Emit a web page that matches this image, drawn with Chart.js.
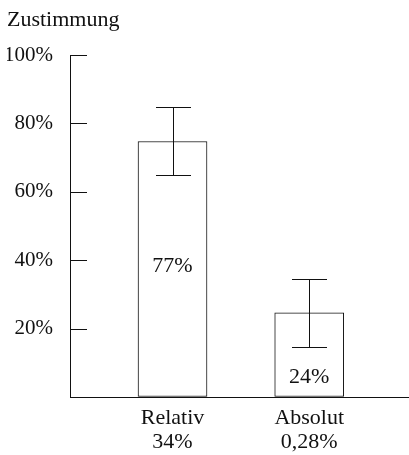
<!DOCTYPE html>
<html>
<head>
<meta charset="utf-8">
<script src="https://cdn.jsdelivr.net/npm/chart.js@4/dist/chart.umd.min.js"></script>
<style>
  html, body { margin: 0; padding: 0; background: #fff; }
  #wrap { width: 409px; height: 455px; }
</style>
</head>
<body>
<div id="wrap"><canvas id="c"></canvas></div>
<script>
const categories = ['Relativ', 'Absolut'];
const subLabels = ['34%', '0,28%'];
const values = [74.7, 24.6];
const errLow = [64.8, 14.5];
const errHigh = [84.7, 34.5];
const barTexts = ['77%', '24%'];
const yTickValues = [20, 40, 60, 80, 100];

const FONT = "'Liberation Serif', 'Times New Roman', serif";
const INK = '#111';
const FS = 22;

const overlay = {
  id: 'overlay',
  afterDatasetsDraw(chart) {
    const ctx = chart.ctx;
    const xs = chart.scales.x, ys = chart.scales.y;
    ctx.save();
    ctx.strokeStyle = INK;
    ctx.lineWidth = 1;
    yTickValues.forEach(v => {
      const py = Math.round(ys.getPixelForValue(v)) + 0.5;
      ctx.beginPath();
      ctx.moveTo(xs.left, py);
      ctx.lineTo(xs.left + 17, py);
      ctx.stroke();
    });
    const meta = chart.getDatasetMeta(0);
    meta.data.forEach((bar, i) => {
      const cx = Math.round(bar.x) + 0.5;
      const yh = Math.round(ys.getPixelForValue(errHigh[i])) + 0.5;
      const yl = Math.round(ys.getPixelForValue(errLow[i])) + 0.5;
      ctx.beginPath();
      ctx.moveTo(cx, yh); ctx.lineTo(cx, yl);
      ctx.moveTo(cx - 17.5, yh); ctx.lineTo(cx + 17.5, yh);
      ctx.moveTo(cx - 17.5, yl); ctx.lineTo(cx + 17.5, yl);
      ctx.stroke();
    });
    ctx.fillStyle = INK;
    ctx.font = FS + 'px ' + FONT;
    ctx.textAlign = 'center';
    ctx.textBaseline = 'middle';
    meta.data.forEach((bar, i) => {
      let ty;
      if (i === 0) ty = (bar.y + bar.base) / 2 - 3;
      else ty = bar.base - 19;
      ctx.fillText(barTexts[i], bar.x, ty);
    });
    ctx.restore();
  }
};

new Chart(document.getElementById('c'), {
  type: 'bar',
  data: {
    datasets: [{
      data: values.map((v, i) => ({ x: i, y: v })),
      backgroundColor: '#fff',
      borderColor: INK,
      borderWidth: 1,
      borderSkipped: false,
      barThickness: 69
    }]
  },
  options: {
    responsive: true,
    maintainAspectRatio: false,
    animation: false,
    layout: { padding: { left: 7, right: 0, top: 0, bottom: 0 } },
    plugins: {
      legend: { display: false },
      tooltip: { enabled: false },
      title: {
        display: true,
        text: 'Zustimmung',
        align: 'start',
        color: INK,
        font: { family: FONT, size: FS, weight: 'normal', lineHeight: 1.2 },
        padding: { top: 7, bottom: 21.6 }
      }
    },
    scales: {
      x: {
        type: 'linear',
        offset: false,
        min: -0.75,
        max: 1.73,
        afterBuildTicks: s => { s.ticks = categories.map((c, i) => ({ value: i })); },
        afterFit: s => { s.height = 58; },
        grid: { display: true, offset: false, drawOnChartArea: false, drawTicks: false },
        border: { display: true, color: INK, width: 1 },
        ticks: {
          color: INK,
          font: { family: FONT, size: FS, lineHeight: 1.1 },
          padding: 9,
          maxRotation: 0,
          autoSkip: false,
          callback: v => [categories[v], subLabels[v]]
        }
      },
      y: {
        min: 0,
        max: 100,
        afterFit: s => { s.width = 63; },
        grid: { display: true, drawOnChartArea: false, drawTicks: false },
        border: { display: true, color: INK, width: 1 },
        ticks: {
          stepSize: 20,
          color: INK,
          font: { family: FONT, size: 21 },
          padding: 17,
          callback: v => (v === 0 ? '' : v + '%')
        }
      }
    }
  },
  plugins: [overlay]
});
</script>
</body>
</html>
